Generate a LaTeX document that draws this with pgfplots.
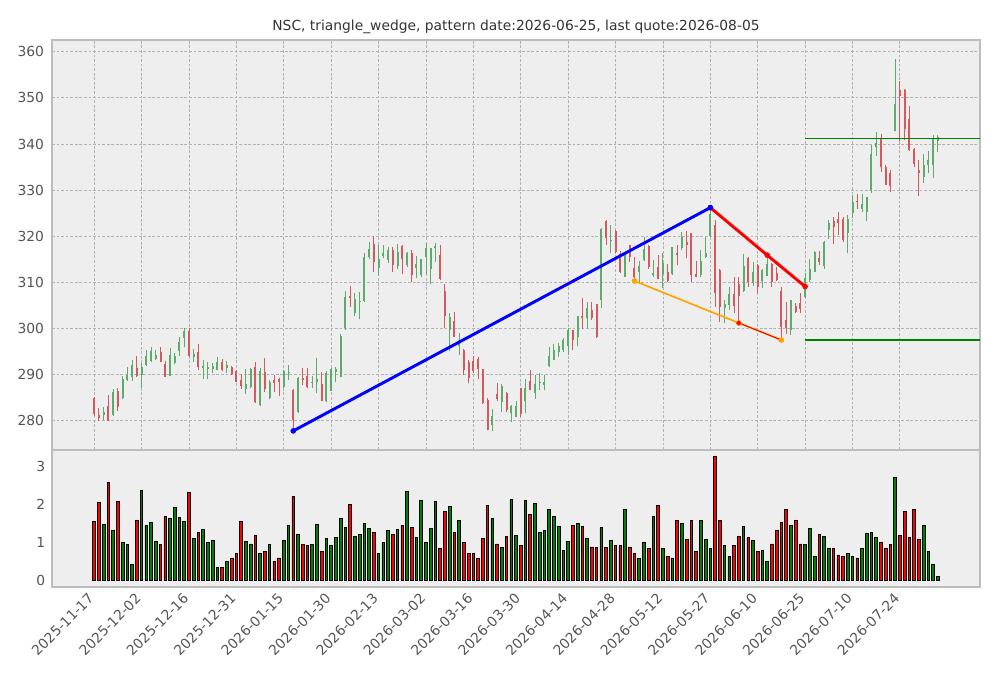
\documentclass[border=0pt]{standalone}
\usepackage{fontspec}
\setmainfont{DejaVu Sans}
\usepackage{pgfplots}
\pgfplotsset{compat=1.18}
\usepackage{pgfplotstable}
\definecolor{bgc}{HTML}{EEEEEE}
\definecolor{framec}{HTML}{BCBCBC}
\definecolor{gridc}{HTML}{B2B2B2}
\definecolor{tickc}{HTML}{555555}
\definecolor{titlec}{HTML}{333333}
\definecolor{cup}{RGB}{94,170,108}
\definecolor{cdn}{RGB}{212,88,92}
\definecolor{vup}{RGB}{0,128,0}
\definecolor{vdn}{RGB}{255,0,0}
\definecolor{morange}{HTML}{FFA500}
\pgfplotstableread{
i o h l c v
2 281.3 282.9 280.2 281.8 1.49
4 281.3 286.8 281.1 286.2 1.33
6 284.9 289.7 284.7 289.0 1.00
7 288.9 291.7 288.7 289.9 0.95
8 289.5 293.2 288.7 292.0 0.44
10 289.9 292.5 287.2 291.7 2.38
11 292.0 295.3 291.9 294.0 1.45
12 293.0 295.9 292.8 295.1 1.53
13 293.4 295.3 293.2 294.3 1.03
16 289.6 295.7 289.6 294.3 1.64
17 292.5 294.6 292.3 294.1 1.93
18 295.1 298.2 294.1 297.1 1.66
19 297.9 300.0 295.9 299.4 1.56
21 293.9 295.5 292.8 294.5 1.11
23 291.4 293.2 289.1 291.9 1.34
24 291.3 292.7 289.1 291.7 1.00
25 291.3 292.5 290.3 291.9 1.05
26 291.0 293.8 291.0 292.8 0.36
28 291.5 292.9 290.3 292.1 0.50
32 286.9 291.2 285.8 287.9 1.03
33 287.3 291.4 287.0 291.2 0.97
35 283.4 291.4 283.2 290.7 0.71
37 284.9 288.9 284.7 288.5 0.95
40 287.4 290.9 287.1 290.7 1.05
41 290.5 292.0 288.9 290.6 1.45
43 282.0 289.5 281.6 289.2 1.21
46 288.3 289.6 287.0 288.5 0.95
47 288.5 293.6 286.1 289.0 1.48
49 284.2 290.7 284.0 290.3 1.11
50 286.5 291.5 286.5 291.3 0.92
51 290.6 291.7 288.3 291.3 1.13
52 289.4 298.7 289.4 298.4 1.64
53 300.0 308.2 299.7 306.9 1.40
55 303.4 307.8 302.7 306.3 1.16
56 305.8 308.0 302.0 306.0 1.21
57 305.9 316.4 305.8 315.6 1.50
58 315.4 318.7 315.0 317.2 1.37
60 313.2 318.1 311.4 315.0 0.73
61 315.7 318.1 315.2 316.3 1.00
62 314.8 317.7 314.1 317.0 1.32
64 313.6 318.4 313.0 316.6 1.34
66 313.7 316.6 313.4 316.3 2.35
68 313.2 315.8 310.9 313.9 1.13
69 311.6 315.0 311.2 315.0 2.11
70 315.6 318.6 311.9 317.4 1.00
71 313.0 317.4 309.6 317.4 1.37
72 317.4 318.6 314.5 317.9 2.09
75 299.7 303.3 295.2 302.4 1.95
77 296.3 299.0 294.3 297.5 1.58
84 279.1 282.5 277.7 281.1 1.64
86 284.0 288.0 282.0 287.5 0.87
88 281.6 283.4 279.7 283.1 2.14
89 280.9 284.2 280.8 283.2 1.19
91 284.2 289.0 281.6 287.1 2.11
93 286.0 289.9 284.7 288.0 2.03
94 288.2 290.3 286.7 288.3 1.27
95 287.8 289.9 286.6 288.5 1.32
96 291.9 295.9 291.7 294.1 1.88
97 293.2 296.6 293.2 295.3 1.69
98 295.0 296.9 293.9 296.2 1.42
99 295.3 297.9 295.0 297.5 0.79
100 296.2 300.0 294.3 299.7 1.03
102 298.2 302.7 296.2 302.7 1.50
104 302.2 305.8 300.0 304.4 1.11
107 306.2 321.7 304.4 321.5 1.40
109 318.9 322.4 316.3 319.2 1.05
112 311.2 316.3 311.2 315.9 1.88
115 312.3 314.6 310.1 313.5 0.58
116 314.8 319.9 314.7 317.3 1.00
118 311.6 314.8 311.2 312.1 1.69
120 311.8 316.4 308.7 314.2 0.84
122 311.8 317.7 311.6 317.6 0.60
124 317.5 320.9 317.0 319.9 1.50
128 311.6 317.1 311.2 314.6 1.58
129 315.5 319.9 315.2 316.3 1.08
130 320.0 326.2 319.9 324.9 0.84
133 304.4 306.2 301.1 305.4 0.92
134 305.1 308.9 304.0 307.5 0.65
137 308.2 316.1 308.0 313.5 1.42
139 309.9 314.5 309.2 312.3 1.05
141 310.4 312.8 308.7 312.7 0.79
142 311.4 315.9 311.4 314.0 0.52
147 299.7 306.2 298.6 306.2 1.45
150 306.8 312.1 306.6 311.0 0.95
151 310.6 315.0 310.1 312.8 1.37
152 312.3 316.9 312.3 316.6 0.65
154 313.5 319.0 313.0 318.8 1.16
155 321.3 323.6 319.5 322.8 0.84
159 320.7 324.6 316.3 323.8 0.73
160 325.0 328.9 323.9 327.4 0.63
162 326.0 329.2 325.3 327.0 0.84
163 325.3 328.5 323.3 328.5 1.24
164 330.0 339.7 329.3 337.9 1.27
165 339.4 342.6 337.5 340.2 1.13
169 342.8 358.5 342.8 348.6 2.72
175 332.9 337.8 331.6 335.4 1.45
176 335.4 338.4 333.7 336.5 0.76
177 335.4 341.9 332.6 341.2 0.42
178 340.7 342.0 338.3 341.5 0.12
}\tabup
\pgfplotstableread{
i o h l c v
0 285.0 285.1 281.1 281.5 1.56
1 281.3 282.7 280.0 280.7 2.06
3 283.2 285.6 279.9 280.0 2.59
5 286.5 287.1 282.2 282.9 2.10
9 291.4 294.0 289.5 289.7 1.59
14 294.9 295.9 292.7 292.8 0.95
15 292.4 292.9 289.4 289.5 1.69
20 299.5 300.2 293.9 294.0 2.33
22 294.9 296.6 291.0 291.7 1.27
27 292.8 293.3 290.7 290.9 0.34
29 291.7 291.8 289.9 290.1 0.60
30 290.7 290.9 288.4 288.5 0.71
31 288.8 290.2 286.9 287.6 1.56
34 291.7 292.7 283.8 284.0 1.19
36 290.6 293.7 286.3 286.9 0.76
38 288.9 289.9 286.3 288.1 0.52
39 289.0 289.2 285.3 288.5 0.60
42 286.7 286.8 277.8 280.2 2.22
44 289.2 291.4 287.8 288.9 0.95
45 289.6 291.4 287.0 287.3 0.92
48 288.0 290.5 284.2 284.3 0.76
54 307.0 309.2 304.7 306.7 2.01
59 318.4 320.0 312.2 314.5 1.27
63 317.1 317.7 312.3 313.7 1.21
65 317.9 318.0 311.9 315.0 1.45
67 316.3 317.0 310.0 311.6 1.40
73 315.9 318.1 310.5 310.7 0.84
74 308.2 309.6 300.0 302.7 1.82
76 301.6 303.6 298.1 298.2 1.27
78 295.4 295.5 289.9 291.0 1.00
79 292.8 293.2 288.1 289.2 0.73
80 293.0 294.1 290.3 290.7 0.71
81 293.3 293.9 289.0 291.2 0.58
82 291.2 291.3 283.7 283.8 1.11
83 284.5 284.9 277.9 278.0 1.98
85 285.8 288.1 284.2 284.8 0.97
87 286.1 286.3 282.0 282.4 1.16
90 287.1 287.2 280.9 281.5 0.92
92 288.7 291.0 286.6 286.7 1.74
101 299.6 299.7 295.4 297.5 1.45
103 302.6 306.7 299.8 302.3 1.42
105 304.1 305.8 301.8 302.2 0.89
106 305.3 305.4 297.9 298.2 0.87
108 323.3 323.5 318.1 319.7 0.87
110 321.2 321.3 316.3 316.6 0.92
111 316.1 316.8 312.1 312.3 0.92
113 318.1 318.2 314.5 315.5 0.89
114 313.1 315.4 310.3 311.2 0.71
117 317.9 318.0 313.0 313.4 0.84
119 313.4 315.9 310.7 310.8 1.98
121 312.3 313.9 310.1 310.3 0.65
123 316.3 318.1 313.7 315.9 1.58
125 318.8 321.2 315.2 318.1 1.08
126 320.6 320.7 310.1 311.6 1.58
127 311.8 314.7 311.1 311.2 0.76
131 322.4 323.5 304.7 307.6 3.28
132 312.7 312.8 301.5 304.6 1.58
135 307.5 311.1 303.4 304.9 0.92
136 309.6 311.1 301.2 307.0 1.16
138 315.2 315.4 309.1 310.1 1.13
140 313.7 314.0 307.6 309.1 0.76
143 314.0 314.1 309.1 310.0 0.97
144 312.1 313.4 310.4 310.6 1.32
145 308.2 308.9 297.5 300.4 1.53
146 301.8 305.8 298.8 300.0 1.88
148 304.9 305.5 303.4 303.6 1.58
149 305.6 307.8 303.3 304.3 0.97
153 315.2 316.9 313.7 314.5 1.21
156 323.3 324.1 318.4 321.9 0.84
157 323.8 325.3 320.2 322.8 0.68
158 323.8 324.2 318.8 319.2 0.63
161 327.7 329.1 326.0 327.5 0.60
166 341.0 342.1 334.0 334.9 1.00
167 335.0 335.4 331.1 331.2 0.84
168 333.7 334.4 329.6 330.8 0.95
170 351.6 353.6 340.7 350.5 1.19
171 351.8 351.9 340.8 343.2 1.82
172 345.5 348.2 338.5 338.6 1.13
173 338.9 339.2 334.9 335.7 1.88
174 334.3 336.5 328.8 333.7 1.08
}\tabdn
\pgfplotsset{
  common/.style={
    scale only axis,
    width=9.28in,
    anchor=south west,
    xmin=-8.9, xmax=186.9,
    axis background/.style={fill=bgc},
    axis line style={draw=framec, line width=1pt},
    major tick length=0pt,
    tick label style={font=\fontsize{10}{12}\selectfont, text=tickc},
    yticklabel style={anchor=east, inner sep=0pt, xshift=-5.6pt},
    xtick={0,10,...,170},
    /pgf/number format/assume math mode=true,
  },
  wick/.style={only marks, mark=*, mark size=0pt, mark options={draw=none, fill=none}, forget plot,
    error bars/.cd, y dir=plus, y explicit, error mark=none,
    error bar style={draw=#1, line width=0.65pt, solid}},
  body/.style={only marks, mark=*, mark size=0pt, mark options={draw=none, fill=none}, forget plot,
    error bars/.cd, y dir=plus, y explicit, error mark=none,
    error bar style={draw=#1, line width=1.45pt, solid}},
  dot/.style={mark=*, mark size=1.8pt, mark options={solid, line width=0.4pt}},
}
\begin{document}
\begin{tikzpicture}
\useasboundingbox (0,0) rectangle (10.01in,6.78in);
\begin{axis}[common,
  at={(0.52in,2.28in)}, height=4.10in,
  ymin=273.66, ymax=362.54, ytick={280,290,...,360},
  xticklabels={},
  grid=major,
  major grid style={draw=gridc, line width=0.6pt, dash pattern=on 2pt off 1.3pt},
]
\addplot[wick=cup] table[x=i, y=l, y error plus expr={\thisrow{h}-\thisrow{l}}] {\tabup};
\addplot[body=cup] table[x=i, y=o, y error plus expr={\thisrow{c}-\thisrow{o}}] {\tabup};
\addplot[wick=cdn] table[x=i, y=l, y error plus expr={\thisrow{h}-\thisrow{l}}] {\tabdn};
\addplot[body=cdn] table[x=i, y=c, y error plus expr={\thisrow{o}-\thisrow{c}}] {\tabdn};
\addplot[vup, line width=1.2pt] coordinates {(150,341.2) (186.9,341.2)};
\addplot[vup, line width=1.2pt] coordinates {(150,297.5) (186.9,297.5)};
\addplot[morange, line width=1.2pt, dot] coordinates {(114,310.3) (136,301.2) (145,297.5)};
\addplot[red, line width=0.7pt, mark=*, mark size=1.4pt, mark indices={1}] coordinates {(136,301.2) (145,297.5)};
\addplot[red, line width=2.1pt, dot] coordinates {(130,326.2) (142,315.9) (150,309.1)};
\addplot[blue, line width=2.1pt, dot] coordinates {(42,277.8) (130,326.2)};
\end{axis}
\begin{axis}[common,
  at={(0.52in,0.91in)}, height=1.37in,
  ymin=-0.164, ymax=3.444, ytick={0,1,2,3},
  yticklabel style={xshift=0.8pt},
  xticklabels={2025-11-17,2025-12-02,2025-12-16,2025-12-31,2026-01-15,2026-01-30,2026-02-13,2026-03-02,2026-03-16,2026-03-30,2026-04-14,2026-04-28,2026-05-12,2026-05-27,2026-06-10,2026-06-25,2026-07-10,2026-07-24},
  xticklabel style={inner sep=0pt, anchor=north east, xshift=-5pt, yshift=-3.6pt, rotate=45},
]
\addplot[ybar, bar width=0.56, bar shift=0pt, fill=vup, draw=black, line width=0.6pt] table[x=i, y=v] {\tabup};
\addplot[ybar, bar width=0.56, bar shift=0pt, fill=vdn, draw=black, line width=0.6pt] table[x=i, y=v] {\tabdn};
\end{axis}
\node[anchor=base, inner sep=0pt, text=titlec, font=\fontsize{10}{12}\selectfont] at (5.16in,6.473in) {NSC, triangle\_wedge, pattern date:2026-06-25, last quote:2026-08-05};
\end{tikzpicture}
\end{document}
